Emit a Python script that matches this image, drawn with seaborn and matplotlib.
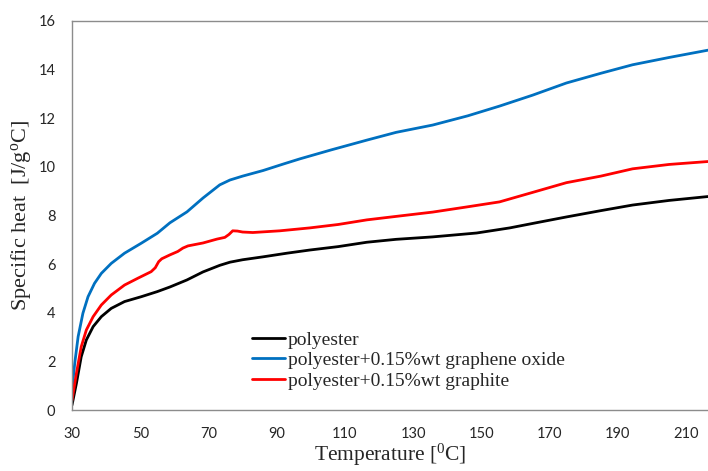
import matplotlib
matplotlib.use("Agg")
import matplotlib.pyplot as plt
import seaborn as sns
import pandas as pd

# ---- data ----
polyester_x = [30, 31.3, 32.7, 34.2, 36.2, 38.6, 41.5, 45.4, 50.3, 55, 58.7, 63.7, 68.4, 73.3, 76.3,
               80, 86, 93, 99.7, 108, 116.4, 125, 135.7, 148.6, 158.3, 166, 174.9, 185, 194.3,
               205, 216.4]
polyester_y = [0.2, 1.1, 2.19, 2.88, 3.43, 3.84, 4.18, 4.46, 4.66, 4.87, 5.06, 5.35, 5.68, 5.95, 6.08,
               6.18, 6.3, 6.45, 6.58, 6.72, 6.9, 7.02, 7.12, 7.28, 7.49, 7.7, 7.94, 8.2, 8.43,
               8.62, 8.78]

go_x = [30, 30.8, 31.8, 33.2, 34.7, 36.6, 38.6, 41.5, 45.4, 50.3, 55, 58.7, 63.7, 68.4, 73.3, 76.3,
        80, 86, 92, 96.8, 106, 116.4, 125, 135.7, 146, 155.3, 165, 174.9, 185, 194.3, 205, 216.4]
go_y = [0.82, 1.92, 3.02, 3.98, 4.66, 5.21, 5.62, 6.03, 6.45, 6.86, 7.27, 7.7, 8.15, 8.72, 9.26, 9.46,
        9.62, 9.85, 10.12, 10.33, 10.7, 11.1, 11.42, 11.72, 12.1, 12.5, 12.95, 13.45, 13.85,
        14.2, 14.5, 14.8]

gr_x = [30, 31.3, 32.7, 34.2, 36.2, 38.6, 41.5, 45.4, 49.3, 53.2, 54.4, 55.4, 56.3, 58.7, 61, 62.5,
        64, 68.4, 72.5, 74.8, 76, 77.1, 78.5, 80, 83, 90.9, 99.7, 108, 116.4, 126, 135.7, 145.6,
        155.3, 165, 174.9, 185, 194.3, 205, 216.4]
gr_y = [0.4, 1.51, 2.6, 3.29, 3.84, 4.32, 4.73, 5.14, 5.42, 5.69, 5.85, 6.1, 6.22, 6.38, 6.52, 6.66,
        6.75, 6.87, 7.03, 7.1, 7.22, 7.37, 7.36, 7.32, 7.3, 7.37, 7.49, 7.63, 7.82, 7.98, 8.14,
        8.35, 8.56, 8.95, 9.35, 9.62, 9.92, 10.1, 10.22]

labels = ["polyester", "polyester+0.15%wt graphene oxide", "polyester+0.15%wt graphite"]
colors = ["#000000", "#0070C0", "#FF0000"]
x_ticks = [30, 50, 70, 90, 110, 130, 150, 170, 190, 210]
y_ticks = [0, 2, 4, 6, 8, 10, 12, 14, 16]

df = pd.concat([
    pd.DataFrame({"T": polyester_x, "cp": polyester_y, "series": labels[0]}),
    pd.DataFrame({"T": go_x, "cp": go_y, "series": labels[1]}),
    pd.DataFrame({"T": gr_x, "cp": gr_y, "series": labels[2]}),
], ignore_index=True)

sns.set_style("white")
plt.rcParams["mathtext.fontset"] = "custom"
plt.rcParams["mathtext.rm"] = "Liberation Serif"
plt.rcParams["mathtext.it"] = "Liberation Serif:italic"

fig = plt.figure(figsize=(7.08, 4.71), dpi=100)
ax = fig.add_axes([72 / 708, 1 - 410 / 471, 1 - 72 / 708, (410 - 21) / 471])

sns.lineplot(data=df, x="T", y="cp", hue="series", hue_order=labels,
             palette=dict(zip(labels, colors)), linewidth=2.0, sort=False,
             estimator=None, ax=ax)

ax.set_xlim(30, 216.4)
ax.set_ylim(0, 16)
ax.set_xticks(x_ticks)
ax.set_yticks(y_ticks)
ax.tick_params(length=0, pad=12, labelsize=10.5)
for lab in ax.get_xticklabels() + ax.get_yticklabels():
    lab.set_family("Lato")

for s in ["left", "bottom", "top"]:
    ax.spines[s].set_color("#8c8c8c")
    ax.spines[s].set_linewidth(1.0)
ax.spines["right"].set_visible(False)

ax.set_xlabel(r"Temperature [$^{0}$C]", family="Liberation Serif", fontsize=15.5, labelpad=1)
ax.set_ylabel(r"Specific heat  [J/g$^{\mathrm{o}}$C]", family="Liberation Serif", fontsize=16, labelpad=4)

leg = ax.legend(loc="upper left", bbox_to_anchor=((252 - 72) / 636, (410 - 331) / 389),
                frameon=False, prop={"family": "Liberation Serif", "size": 14},
                handlelength=1.7, handletextpad=0.15, labelspacing=0.15, borderpad=0,
                borderaxespad=0)
for line in leg.get_lines():
    line.set_linewidth(2.0)

fig.savefig("out.png", dpi=100)
